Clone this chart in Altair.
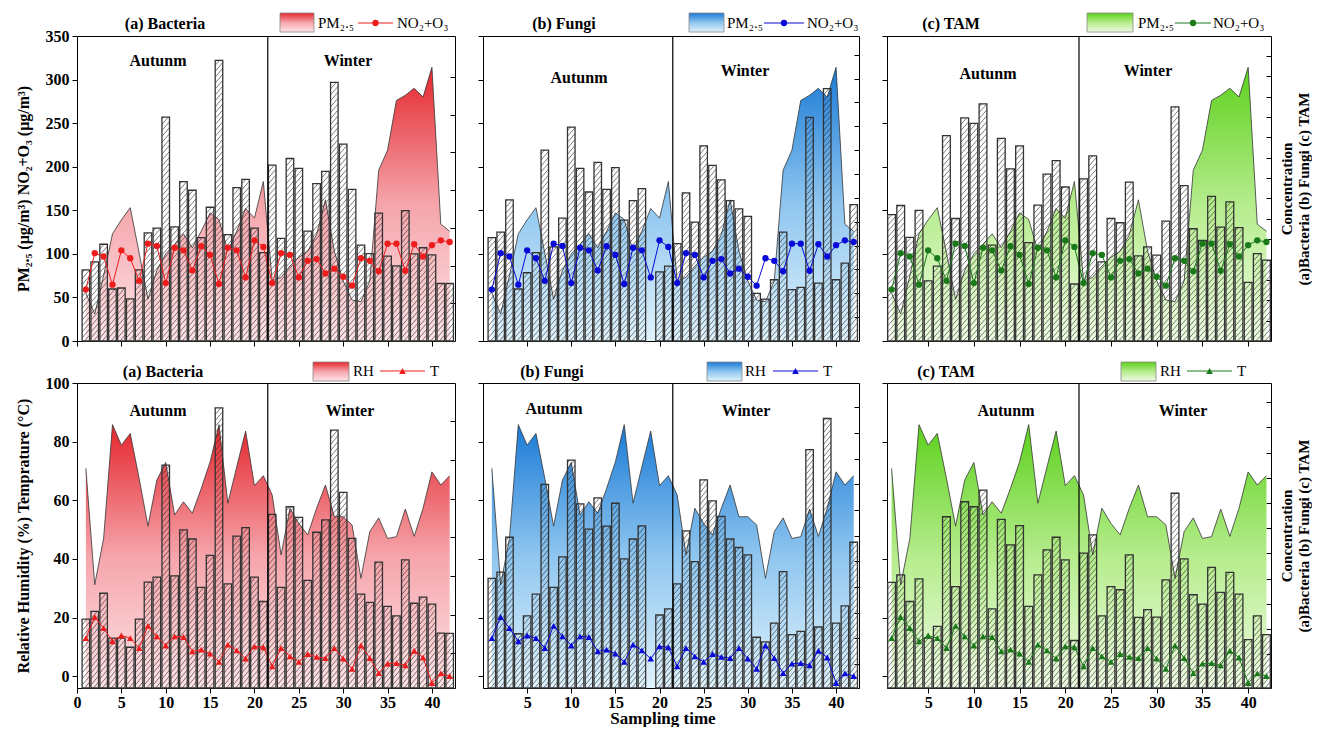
import altair as alt
import pandas as pd

# ---------------- data ----------------
days = list(range(1, 43))
pm25 = [55, 31, 75, 123, 139, 153, 101, 48, 81, 100, 111, 123, 107, 126, 147, 139.5, 103, 126, 152, 141, 183,
        69, 73, 86, 96, 103, 122, 162, 103, 69, 47, 45, 69, 196, 219, 276, 282, 290, 280, 314, 134, 126]
no2_o3 = [59, 100.7, 97, 64.6, 104, 95, 69, 111.7, 109, 66.5, 107, 104, 81, 108.7, 98.8, 65.4, 107, 104, 73, 115.5, 108,
          66.5, 100.7, 98.8, 73, 92, 94, 77.5, 83, 73.7, 63.5, 95, 92, 80, 111.7, 111.7, 80.6, 111, 97, 110, 115.5, 113.6]
rh = [70.9, 31.2, 47, 85.8, 78.8, 82.8, 67.5, 51.2, 66.9, 72.9, 55, 59.5, 55.6, 64, 73.1, 85.8, 59, 71.4, 83.6, 65, 68.4,
      61.8, 41.4, 57.3, 52.1, 48.2, 57.3, 65.2, 54.4, 54.4, 51.6, 33.4, 49.3, 54, 47, 47.6, 57, 47.7, 57.3, 69.7, 65.2, 68.4]
temperature = [13, 20.2, 16.4, 11.9, 13.9, 13, 9.6, 17.2, 13.6, 10.5, 13.6, 13.4, 8.5, 9.1, 7.7, 4.9, 10.8, 8.8, 6, 10.2, 9.9,
               3.4, 9.6, 6.8, 4.9, 7.6, 6.6, 6.2, 9.6, 6, 2.5, 10.5, 6.2, 1.1, 4.3, 4.5, 3.7, 8.7, 6.4, -2.3, 1, 0.1]

bacteria_pm = [81.7, 90.8, 111, 59.7, 60.8, 48.3, 81.7, 124, 129.6, 257, 131, 183, 173, 118.6, 153.5, 322, 122, 176, 185.5, 129.6, 101.5,
               201.8, 117.8, 209.4, 198, 126, 180.5, 194.6, 296.8, 226, 174, 110, 100.3, 146.7, 97.3, 86.3, 149.7, 100, 107, 98.8, 66, 66]
fungi_pm = [118.6, 125, 162, 59.7, 78.3, 101.5, 219, 108, 141, 245.5, 198, 171, 205, 174, 199, 138.7, 161, 174.8, None, 79.4, 86,
            111.7, 170, 136.5, 224, 201.5, 185, 161, 151.7, 143, 54.7, 48, 70.3, 125, 59, 61.6, 256.6, 66.5, 289.6, 70.3, 89.3, 156.6]
tam_pm = [145, 155.5, 119, 150, 69, 86, 235.6, 140.6, 256, 249.7, 272, 110, 232.6, 197.6, 224, 113, 156, 191.6, 207, 176.7, 65.4,
          186, 212.5, 90.8, 140.6, 135.7, 182.4, 97.7, 108, 98.6, 137.6, 268.7, 178.3, 128.8, 115.5, 166, 130.7, 159.6, 130, 67.3, 100.3, 92.7]

bacteria_met = [19.5, 22.1, 28.3, 13, 13, 9.9, 19.5, 32.1, 33.8, 72, 34.2, 49.9, 46.8, 30.3, 41.2, 91.5, 31.5, 47.8, 50.7, 33.8, 25.5,
                55.2, 30.3, 57.8, 54.2, 32.7, 49.1, 53.3, 83.9, 62.7, 47, 28, 25.2, 38.9, 23.8, 20.6, 39.7, 24.9, 27, 24.6, 14.7, 14.6]
fungi_met = [33.4, 35.5, 47.4, 14.5, 20.6, 28, 65.4, 30.3, 40.7, 73.7, 58.8, 50.2, 60.8, 51.2, 59, 40, 46.8, 51.3, None, 20.9, 23,
             31.5, 49.6, 39.1, 67, 59.8, 54.5, 46.8, 43.9, 41.4, 13.3, 11.7, 18.1, 35.7, 14.2, 15.3, 77.3, 16.8, 87.9, 18.1, 24, 45.7]
tam_met = [32, 34.6, 25.5, 33.2, 13, 17, 54.4, 30.6, 59.5, 57.8, 63.5, 23, 53.5, 44.8, 51.4, 23.8, 34.6, 43.1, 47.4, 39.7, 12.2,
           42, 48.2, 20.6, 30.6, 29.5, 41.4, 20.1, 22.7, 20.2, 32.9, 62.4, 40, 27.8, 24.6, 37.1, 28.6, 35.4, 28, 12.5, 20.6, 14.2]

panel_names = ["(a) Bacteria", "(b) Fungi", "(c) TAM"]
season_names = ["Autunm", "Winter"]
top_legend = ["PM\u2082.\u2085", "NO\u2082+O\u2083"]
bottom_legend = ["RH", "T"]
top_y_title = "PM\u2082.\u2085 (\u03bcg/m\u00b3)  NO\u2082+O\u2083 (\u03bcg/m\u00b3)"
bottom_y_title = "Relative Humidity (%)  Temprature (\u00b0C)"
right_title = ["Concentration", "(a)Bacteria (b) Fungi (c) TAM"]
x_title = "Sampling time"
x_ticks_first = [0, 5, 10, 15, 20, 25, 30, 35, 40]
x_ticks_other = [5, 10, 15, 20, 25, 30, 35, 40]
top_y_ticks = [0, 50, 100, 150, 200, 250, 300, 350]
bottom_y_ticks = [0, 20, 40, 60, 80, 100]
season_split = 21.5

# ---------------- styles ----------------
FONT = "Liberation Serif"
GRADS = [["#fde4e7", "#f5a5ab", "#e4262d"],
         ["#e0f2fc", "#8fc6ef", "#1a7ad6"],
         ["#effbe4", "#b5ec8c", "#5dd11d"]]
LINE_COLORS = ["#ee1c1c", "#0a0ad8", "#1a7a1a"]
WIDTHS = [378, 376, 384]
XDOMS = [[0, 42.6], [0, 42.6], [0.5, 42.5]]
H = 305
BAR_W = 0.85

one = pd.DataFrame({"k": [0]})


def gradient(c):
    g = GRADS[c]
    return alt.Gradient(gradient="linear",
                        stops=[alt.GradientStop(color=g[0], offset=0),
                               alt.GradientStop(color=g[1], offset=0.5),
                               alt.GradientStop(color=g[2], offset=1)],
                        x1=0, x2=0, y1=1, y2=0)


def txt(s, x, y, size=16, weight="bold", align="center"):
    return alt.Chart(one).mark_text(text=s, font=FONT, fontSize=size, fontWeight=weight,
                                    align=align, baseline="middle", color="black").encode(
        x=alt.value(x), y=alt.value(y))


ROWS = [
    dict(ymin=0, ymax=350, yticks=top_y_ticks, area=pm25, line=no2_o3, shape="circle", msize=40,
         legend=top_legend, ytitle=top_y_title, S=6.8, R=10.0,
         bars=[bacteria_pm, fungi_pm, tam_pm],
         rticks=[[43.3 * k for k in range(1, 8)], [27.37 * k for k in range(1, 13)], [23.37 * k for k in range(1, 15)]],
         titles_x=[88, 81, 64], title_y=-12,
         seasons=[[(81, 25), (271, 25)], [(96, 42), (262, 35)], [(101, 38), (261, 35)]],
         swatch=[(203, 237), (206, 241), (200, 246)], sw_y=(-23, -4),
         ltext1=[241, 244, 251], lline=[(281, 316), (281, 321), (288, 324)], ltext2=[320, 324, 326], ly=-13),
    dict(ymin=-4, ymax=100, yticks=bottom_y_ticks, area=rh, line=temperature, shape="triangle-up", msize=45,
         legend=bottom_legend, ytitle=bottom_y_title, S=2.05, R=3.1,
         bars=[bacteria_met, fungi_met, tam_met],
         rticks=[[7.8 + 13.2 * k for k in range(0, 7)], [4.2 + 8.75 * k for k in range(0, 11)], [7.5 + 8.6 * k for k in range(0, 11)]],
         titles_x=[86, 69, 59], title_y=-11,
         seasons=[[(81, 28), (273, 28)], [(71, 26), (263, 28)], [(119, 28), (296, 28)]],
         swatch=[(236, 272), (224, 259), (234, 269)], sw_y=(-21, -2),
         ltext1=[276, 262, 273], lline=[(303, 348), (290, 335), (300, 345)], ltext2=[353, 340, 350], ly=-12),
]


def panel(r, c):
    R = ROWS[r]
    ymin, ymax = R["ymin"], R["ymax"]
    W = WIDTHS[c]
    xs = alt.Scale(domain=XDOMS[c], nice=False, zero=False)
    xaxis = alt.Axis(values=x_ticks_first if c == 0 else x_ticks_other, labels=(r == 1), title=None,
                     grid=False, domain=False, tickSize=5, labelFont=FONT, labelFontSize=16,
                     labelFontWeight="bold", labelPadding=1, labelFlush=False)
    ys = alt.Scale(domain=[ymin, ymax], nice=False, zero=False)
    yaxis = alt.Axis(values=R["yticks"], labels=(c == 0), title=(R["ytitle"] if c == 0 else None),
                     grid=False, domain=False, tickSize=5, orient="left",
                     labelFont=FONT, labelFontSize=16, labelFontWeight="bold", labelPadding=3,
                     titleFont=FONT, titleFontSize=16, titleFontWeight="bold", titlePadding=14)

    def X(f):
        return alt.X(f, type="quantitative", scale=xs, axis=xaxis)

    def Y(f):
        return alt.Y(f, type="quantitative", scale=ys, axis=yaxis)

    env = pd.DataFrame({"t": days, "a": R["area"], "l": R["line"]})
    bars = pd.DataFrame({"t": days, "v": R["bars"][c]})
    lc = LINE_COLORS[c]
    S, RR = R["S"], R["R"]

    area = alt.Chart(env).mark_area(color=gradient(c), interpolate="linear").encode(
        x=X("t"), y=Y("a"), y2=alt.datum(ymin))
    outline = alt.Chart(env).mark_line(color="#333333", strokeWidth=0.8).encode(x=X("t"), y=Y("a"))

    hatch = alt.Chart(bars).transform_filter("isValid(datum.v)").transform_calculate(
        seq=f"sequence(0, ceil((datum.v - ({ymin}) + {RR}) / {S}) + 1)"
    ).transform_flatten(["seq"]).transform_calculate(
        y0=f"({ymin}) + datum.seq * {S} - {RR}",
    ).transform_calculate(
        y1=f"datum.y0 + {RR}",
        ya=f"max(datum.y0, {ymin})",
    ).transform_calculate(
        yb="min(datum.y1, datum.v)"
    ).transform_filter("datum.ya < datum.yb").transform_calculate(
        xa=f"datum.t - {BAR_W / 2} + (datum.ya - datum.y0) / {RR} * {BAR_W}",
        xb=f"datum.t - {BAR_W / 2} + (datum.yb - datum.y0) / {RR} * {BAR_W}",
    ).mark_rule(color="#222222", strokeWidth=0.6).encode(
        x=X("xa"), x2="xb:Q", y=Y("ya"), y2="yb:Q")

    bar = alt.Chart(bars).transform_filter("isValid(datum.v)").transform_calculate(
        xl=f"datum.t - {BAR_W / 2}", xr=f"datum.t + {BAR_W / 2}"
    ).mark_bar(fillOpacity=0, stroke="#333333", strokeWidth=1.3).encode(
        x=X("xl"), x2="xr:Q", y=Y("v"), y2=alt.datum(ymin))

    line = alt.Chart(env).mark_line(color=lc, strokeWidth=1).encode(x=X("t"), y=Y("l"))
    pts = alt.Chart(env).mark_point(shape=R["shape"], filled=True, size=R["msize"], color=lc, opacity=1).encode(
        x=X("t"), y=Y("l"))

    layers = [area, outline, hatch, bar, line, pts]
    layers.append(txt(panel_names[c], R["titles_x"][c], R["title_y"]))
    for s_name, (sx, sy) in zip(season_names, R["seasons"][c]):
        layers.append(txt(s_name, sx, sy))
    sa, sb = R["swatch"][c]
    sy0, sy1 = R["sw_y"]
    layers.append(alt.Chart(one).mark_rect(color=gradient(c), stroke="#888888", strokeWidth=0.8).encode(
        x=alt.value(sa), x2=alt.value(sb), y=alt.value(sy0), y2=alt.value(sy1)))
    layers.append(txt(R["legend"][0], R["ltext1"][c], R["ly"], size=15, weight="normal", align="left"))
    la, lb = R["lline"][c]
    layers.append(alt.Chart(one).mark_rule(color=lc, strokeWidth=1).encode(
        x=alt.value(la), x2=alt.value(lb), y=alt.value(R["ly"])))
    layers.append(alt.Chart(one).mark_point(shape=R["shape"], filled=True, size=R["msize"], color=lc, opacity=1).encode(
        x=alt.value((la + lb) / 2), y=alt.value(R["ly"])))
    layers.append(txt(R["legend"][1], R["ltext2"][c], R["ly"], size=15, weight="normal", align="left"))

    inner = alt.layer(*layers)

    raxis = alt.Axis(orient="right", values=R["rticks"][c], labels=False, tickSize=5, offset=-5,
                     domain=False, grid=False,
                     title=(right_title if c == 2 else None), titleAngle=270, titleBaseline="top",
                     titleFont=FONT, titleFontSize=15, titleFontWeight="bold",
                     titleX=13, titleY=H / 2, titleLineHeight=17)
    divider = alt.Chart(one).mark_rule(color="black", strokeWidth=1.2).encode(
        x=alt.datum(season_split),
        y=alt.YDatum(ymin, type="quantitative", scale=alt.Scale(domain=[ymin, ymax], nice=False, zero=False),
                     axis=raxis),
        y2=alt.datum(ymax))

    return alt.layer(inner, divider).resolve_scale(y="independent").properties(width=W, height=H)


top = alt.hconcat(*[panel(0, c) for c in range(3)], spacing=21)
bottom = alt.hconcat(*[panel(1, c) for c in range(3)], spacing=21)

chart = alt.vconcat(top, bottom, spacing=11).properties(
    title=alt.TitleParams(x_title, orient="bottom", anchor="middle", font=FONT, fontSize=17,
                          fontWeight="bold", offset=0, color="black"),
    padding={"left": 6, "top": 4, "right": 0, "bottom": 0},
).configure_view(stroke="black", strokeWidth=1).configure_axis(
    tickColor="black", labelColor="black", titleColor="black", tickWidth=1)

chart.save("out.html", embed_options={"renderer": "svg", "actions": False})
